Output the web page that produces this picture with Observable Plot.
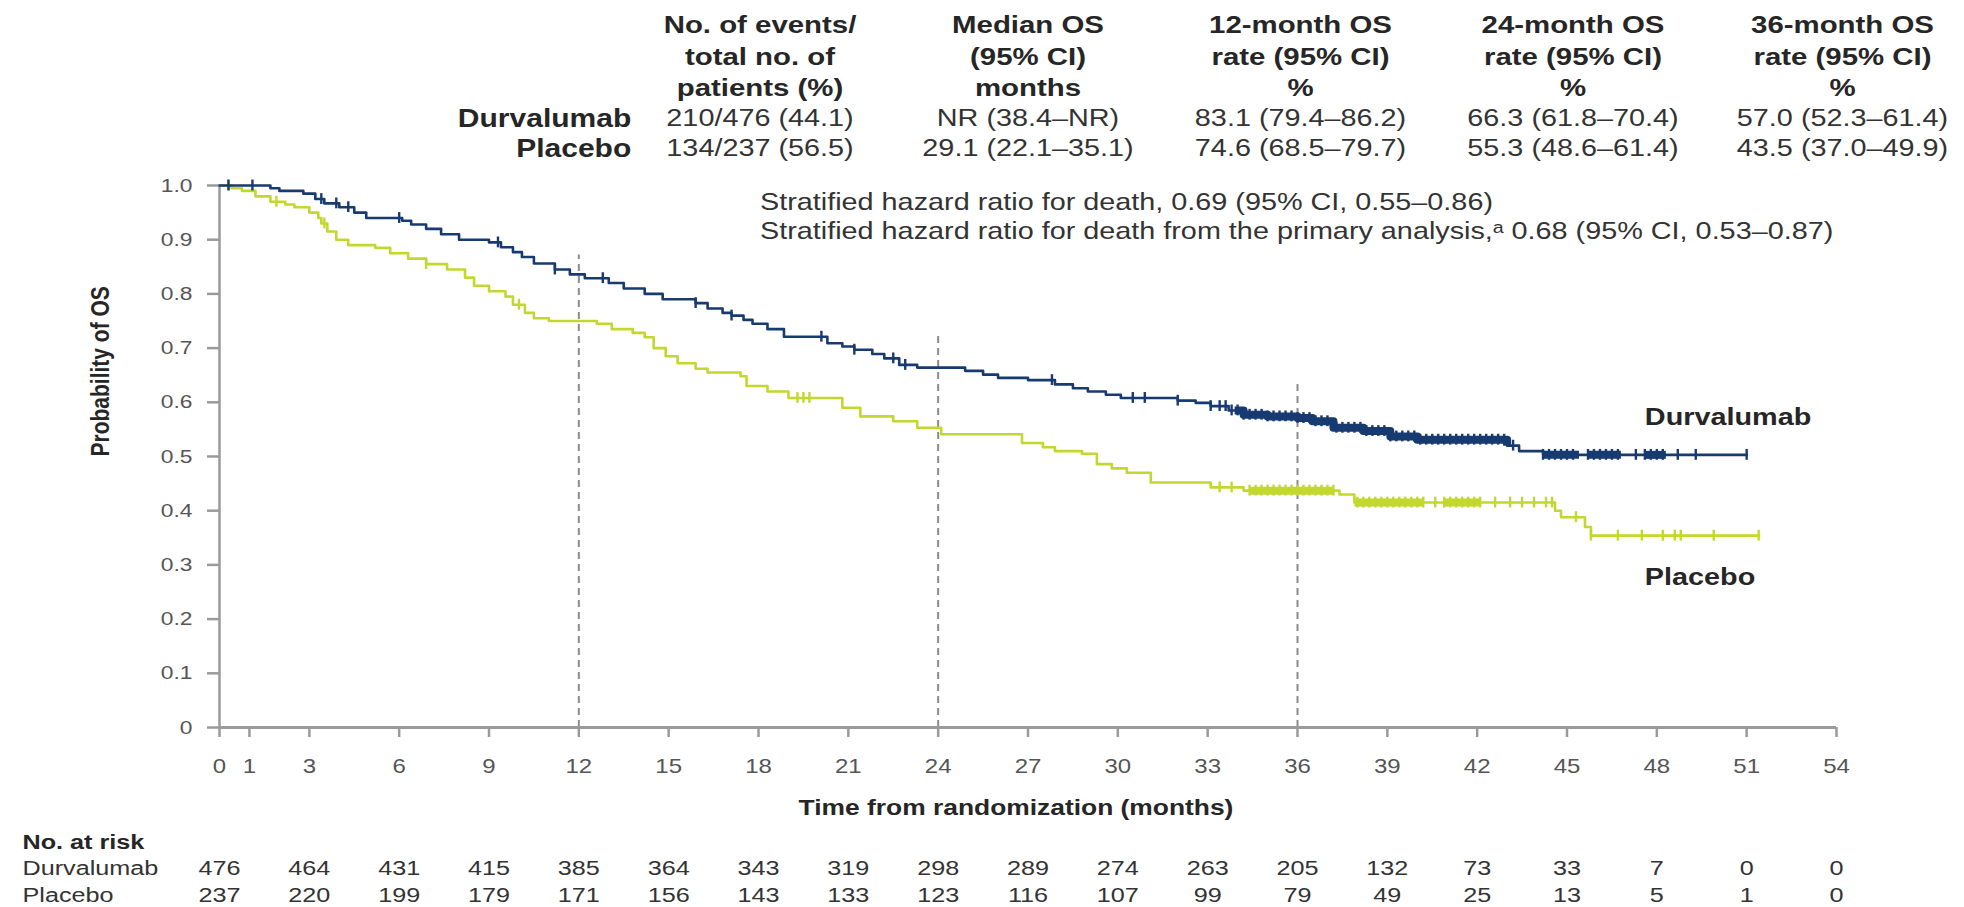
<!DOCTYPE html>
<html>
<head>
<meta charset="utf-8">
<script src="https://cdn.jsdelivr.net/npm/d3@7"></script>
<script src="https://cdn.jsdelivr.net/npm/@observablehq/plot@0.6"></script>
<style>
  html, body { margin: 0; padding: 0; background: #ffffff; }
  #chart svg { display: block; }
</style>
</head>
<body>
<div id="chart"></div>
<script>
// ---------------- DATA ----------------
const groups = ["Durvalumab", "Placebo"];

// Kaplan–Meier steps (time in months, survival probability after the step)
const durvaT = [0, 1.7, 2.0, 2.8, 3.2, 3.5, 4.0, 4.5, 4.9, 6.1, 6.4, 6.9, 7.4, 8.0, 9.0, 9.4, 9.8, 10.1, 10.5, 11.2, 11.7, 12.2, 13.0, 13.5, 14.2, 14.8, 15.9, 16.3, 16.8, 17.1, 17.5, 17.8, 18.3, 18.85, 20.3, 20.8, 21.2, 21.8, 22.2, 22.7, 23.3, 24.9, 25.5, 26.0, 27.0, 27.9, 28.5, 29.0, 29.6, 30.1, 32.0, 32.6, 33.1, 33.7, 34.2, 35.0, 36.0, 36.5, 37.2, 38.2, 39.1, 40.0, 43.0, 43.4, 44.2, 51.0];
const durvaS = [1.0, 0.995, 0.99, 0.985, 0.975, 0.967, 0.96, 0.95, 0.94, 0.935, 0.928, 0.92, 0.91, 0.90, 0.895, 0.886, 0.877, 0.868, 0.856, 0.845, 0.836, 0.829, 0.82, 0.81, 0.80, 0.79, 0.783, 0.773, 0.765, 0.76, 0.752, 0.745, 0.735, 0.721, 0.709, 0.703, 0.697, 0.689, 0.681, 0.669, 0.664, 0.658, 0.651, 0.645, 0.641, 0.633, 0.626, 0.62, 0.614, 0.608, 0.603, 0.599, 0.593, 0.585, 0.577, 0.574, 0.571, 0.565, 0.553, 0.547, 0.537, 0.531, 0.52, 0.51, 0.503, 0.503];

const placeboT = [0, 0.4, 0.75, 1.2, 1.7, 2.2, 2.5, 3.0, 3.3, 3.4, 3.6, 3.9, 4.3, 5.2, 5.7, 6.3, 6.9, 7.6, 8.2, 8.5, 9.0, 9.55, 9.8, 10.2, 10.5, 11.0, 12.6, 13.1, 13.8, 14.2, 14.5, 14.9, 15.3, 15.9, 16.3, 17.4, 17.6, 18.3, 19.0, 20.8, 21.4, 22.5, 23.3, 24.1, 26.8, 27.5, 27.9, 28.8, 29.3, 29.8, 30.3, 31.1, 33.1, 34.2, 37.4, 37.9, 44.6, 44.8, 45.6, 45.8, 51.4];
const placeboS = [1.0, 0.995, 0.99, 0.98, 0.97, 0.965, 0.96, 0.95, 0.94, 0.93, 0.915, 0.90, 0.89, 0.885, 0.875, 0.865, 0.855, 0.845, 0.83, 0.815, 0.805, 0.795, 0.78, 0.765, 0.755, 0.75, 0.745, 0.735, 0.728, 0.72, 0.70, 0.685, 0.672, 0.662, 0.655, 0.648, 0.63, 0.62, 0.608, 0.59, 0.574, 0.565, 0.553, 0.541, 0.525, 0.517, 0.51, 0.505, 0.486, 0.478, 0.47, 0.452, 0.443, 0.437, 0.43, 0.415, 0.40, 0.388, 0.37, 0.354, 0.354];

// censoring times (months)
const durvaCens = [0.3, 1.1, 3.4, 3.9, 4.3, 6.0, 9.3, 11.2, 12.8, 15.9, 17.1, 20.1, 21.2, 22.5, 22.9, 27.8, 30.5, 30.9, 32.0, 33.1, 33.4, 33.6, 33.8, 34.0, 34.2, 34.4, 34.6, 34.8, 35.0, 35.2, 35.4, 35.6, 35.8, 36.0, 36.2, 36.4, 36.6, 36.8, 37.0, 37.3, 37.5, 37.7, 37.9, 38.1, 38.3, 38.5, 38.7, 38.9, 39.1, 39.3, 39.5, 39.7, 39.9, 40.1, 40.3, 40.5, 40.7, 40.9, 41.1, 41.3, 41.5, 41.7, 41.9, 42.1, 42.3, 42.5, 42.7, 42.9, 43.2, 44.2, 44.4, 44.6, 44.8, 45.0, 45.2, 45.7, 45.9, 46.1, 46.3, 46.5, 46.7, 47.3, 47.6, 47.8, 48.0, 48.2, 48.7, 49.3, 51.0];
const placeboCens = [0.3, 1.9, 3.5, 6.9, 10.0, 19.3, 19.5, 19.7, 33.4, 33.8, 34.4, 34.6, 34.8, 35.0, 35.2, 35.4, 35.6, 35.8, 36.0, 36.2, 36.4, 36.6, 36.8, 37.0, 37.2, 38.0, 38.2, 38.4, 38.6, 38.8, 39.0, 39.2, 39.4, 39.6, 39.8, 40.0, 40.2, 40.6, 40.9, 41.1, 41.3, 41.5, 41.7, 41.9, 42.1, 42.6, 43.1, 43.5, 43.9, 44.3, 44.5, 45.3, 45.8, 46.7, 47.5, 48.2, 48.6, 48.8, 49.9, 51.4];

// stretches where censoring marks merge into a solid band (start, end months)
const durvaDense = [[33.9, 43.0], [44.2, 45.4], [45.7, 46.8], [47.6, 48.3]];
const placeboDense = [[34.4, 37.2], [37.9, 40.2], [40.9, 42.1]];

// landmark reference lines (month, top of dashed line)
const landmarkMonths = [12, 24, 36];
const landmarkTop = [0.872, 0.725, 0.636];

// axes
const xTicks = [0, 1, 3, 6, 9, 12, 15, 18, 21, 24, 27, 30, 33, 36, 39, 42, 45, 48, 51, 54];
const yTicks = [0, 0.1, 0.2, 0.3, 0.4, 0.5, 0.6, 0.7, 0.8, 0.9, 1.0];
const yTickLabels = ["0", "0.1", "0.2", "0.3", "0.4", "0.5", "0.6", "0.7", "0.8", "0.9", "1.0"];

// number at risk
const riskMonths = [0, 3, 6, 9, 12, 15, 18, 21, 24, 27, 30, 33, 36, 39, 42, 45, 48, 51, 54];
const durvaRisk = [476, 464, 431, 415, 385, 364, 343, 319, 298, 289, 274, 263, 205, 132, 73, 33, 7, 0, 0];
const placeboRisk = [237, 220, 199, 179, 171, 156, 143, 133, 123, 116, 107, 99, 79, 49, 25, 13, 5, 1, 0];

// summary table
const tableHeaders = ["No. of events/\ntotal no. of\npatients (%)", "Median OS\n(95% CI)\nmonths", "12-month OS\nrate (95% CI)\n%", "24-month OS\nrate (95% CI)\n%", "36-month OS\nrate (95% CI)\n%"];
const durvaRow = ["210/476 (44.1)", "NR (38.4–NR)", "83.1 (79.4–86.2)", "66.3 (61.8–70.4)", "57.0 (52.3–61.4)"];
const placeboRow = ["134/237 (56.5)", "29.1 (22.1–35.1)", "74.6 (68.5–79.7)", "55.3 (48.6–61.4)", "43.5 (37.0–49.9)"];
const hazardLines = ["Stratified hazard ratio for death, 0.69 (95% CI, 0.55–0.86)", "Stratified hazard ratio for death from the primary analysis,ᵃ 0.68 (95% CI, 0.53–0.87)"];

// ---------------- BUILD ----------------
const BLUE = "#173a70";
const GREEN = "#c2d82f";
const AXIS = "#9a9a9a";
const DARK = "#262626";
const FONT = "'Liberation Sans', Arial, Helvetica, sans-serif";

const toSteps = (T, S) => T.map((t, i) => ({t, s: S[i]}));
const durva = toSteps(durvaT, durvaS);
const placebo = toSteps(placeboT, placeboS);
const survAt = (T, S, c) => { let k = 0; for (let i = 0; i < T.length; i++) if (T[i] <= c) k = i; return S[k]; };
const durvaCensPts = durvaCens.map(t => ({t, s: survAt(durvaT, durvaS, t)}));
const placeboCensPts = placeboCens.map(t => ({t, s: survAt(placeboT, placeboS, t)}));
const bandPts = (T, S, bands) => bands.flatMap(([a, b], k) => {
  const pts = [{t: a, s: survAt(T, S, a), k}];
  T.forEach((t, i) => { if (t > a && t < b) pts.push({t, s: S[i], k}); });
  pts.push({t: b, s: survAt(T, S, b), k});
  return pts;
});
const durvaBand = bandPts(durvaT, durvaS, durvaDense);
const placeboBand = bandPts(placeboT, placeboS, placeboDense);
const landmarks = landmarkMonths.map((t, i) => ({t, top: landmarkTop[i]}));

// layout (not data): column centres of the summary table in month units
const colX = [18.05, 27.0, 36.1, 45.2, 54.2];
const rowLabelX = 13.75;
const endLabelX = 47.6;
const TICK_H = 0.01;

const chart = Plot.plot({
  width: 1964,
  height: 907,
  marginLeft: 219,
  marginRight: 128,
  marginTop: 185,
  marginBottom: 180,
  x: {domain: [0, 54]},
  y: {domain: [0, 1]},
  style: {fontFamily: FONT, background: "#ffffff", color: DARK},
  marks: [
    // landmark dashed lines
    Plot.ruleX(landmarks, {x: "t", y1: () => 0, y2: "top", stroke: "#8c8c8c", strokeWidth: 2, strokeDasharray: "7,5"}),
    // axis lines
    Plot.ruleY([0], {stroke: AXIS, strokeWidth: 3}),
    Plot.ruleX([0], {stroke: AXIS, strokeWidth: 2.5}),
    // ticks
    Plot.axisY({ticks: yTicks, tickSize: 12, color: AXIS, strokeWidth: 2.5, tickFormat: () => "", label: null}),
    Plot.axisY({ticks: yTicks, tickSize: 0, tickPadding: 27, color: "#555", fontSize: 19, tickFormat: (d) => yTickLabels[yTicks.indexOf(d)], label: null}),
    Plot.axisX({ticks: xTicks, tickSize: 10, color: AXIS, strokeWidth: 2.5, tickFormat: () => "", label: null}),
    Plot.axisX({ticks: xTicks, tickSize: 0, tickPadding: 31, color: "#555", fontSize: 20, tickFormat: (d) => String(d), label: null}),
    // curves
    Plot.line(placebo, {x: "t", y: "s", curve: "step-after", stroke: GREEN, strokeWidth: 2.6}),
    Plot.line(placeboBand, {x: "t", y: "s", z: "k", curve: "step-after", stroke: GREEN, strokeWidth: 8, strokeLinecap: "butt"}),
    Plot.ruleX(placeboCensPts, {x: "t", y1: (d) => d.s - TICK_H, y2: (d) => d.s + TICK_H, stroke: GREEN, strokeWidth: 2.4}),
    Plot.line(durva, {x: "t", y: "s", curve: "step-after", stroke: BLUE, strokeWidth: 2.6}),
    Plot.line(durvaBand, {x: "t", y: "s", z: "k", curve: "step-after", stroke: BLUE, strokeWidth: 8, strokeLinecap: "butt"}),
    Plot.ruleX(durvaCensPts, {x: "t", y1: (d) => d.s - TICK_H, y2: (d) => d.s + TICK_H, stroke: BLUE, strokeWidth: 2.4}),
    // end-of-curve labels
    Plot.text([groups[0]], {x: () => endLabelX, y: () => 0.573, textAnchor: "start", fontWeight: "bold", fontSize: 24, fill: DARK}),
    Plot.text([groups[1]], {x: () => endLabelX, y: () => 0.277, textAnchor: "start", fontWeight: "bold", fontSize: 24, fill: DARK}),
    // summary table
    Plot.text(tableHeaders, {x: (d, i) => colX[i], text: (d) => d, frameAnchor: "top", dy: -131, lineAnchor: "middle", lineHeight: 1.28, fontWeight: "bold", fontSize: 24.5, fill: DARK}),
    Plot.text([groups[0]], {x: () => rowLabelX, frameAnchor: "top", dy: -67, lineAnchor: "middle", textAnchor: "end", fontWeight: "bold", fontSize: 25, fill: DARK}),
    Plot.text([groups[1]], {x: () => rowLabelX, frameAnchor: "top", dy: -37, lineAnchor: "middle", textAnchor: "end", fontWeight: "bold", fontSize: 25, fill: DARK}),
    Plot.text(durvaRow, {x: (d, i) => colX[i], text: (d) => d, frameAnchor: "top", dy: -67, lineAnchor: "middle", fontSize: 24, fill: "#333"}),
    Plot.text(placeboRow, {x: (d, i) => colX[i], text: (d) => d, frameAnchor: "top", dy: -37, lineAnchor: "middle", fontSize: 24, fill: "#333"}),
    // hazard ratios
    Plot.text([hazardLines[0]], {x: () => colX[0], frameAnchor: "top", dy: 17, lineAnchor: "middle", textAnchor: "start", fontSize: 24, fill: "#333"}),
    Plot.text([hazardLines[1]], {x: () => colX[0], frameAnchor: "top", dy: 46, lineAnchor: "middle", textAnchor: "start", fontSize: 24, fill: "#333"}),
    // axis titles
    Plot.text(["Probability of OS"], {frameAnchor: "left", dx: -119, rotate: -90, fontWeight: "bold", fontSize: 21, fill: DARK}),
    Plot.text(["Time from randomization (months)"], {frameAnchor: "bottom", dx: -12, dy: 80, lineAnchor: "middle", fontWeight: "bold", fontSize: 22, fill: DARK}),
    // number at risk
    Plot.text(["No. at risk"], {frameAnchor: "bottom-left", dx: -197, dy: 115, lineAnchor: "middle", textAnchor: "start", fontWeight: "bold", fontSize: 21, fill: DARK}),
    Plot.text([groups[0]], {frameAnchor: "bottom-left", dx: -197, dy: 141, lineAnchor: "middle", textAnchor: "start", fontSize: 21, fill: "#333"}),
    Plot.text([groups[1]], {frameAnchor: "bottom-left", dx: -197, dy: 168, lineAnchor: "middle", textAnchor: "start", fontSize: 21, fill: "#333"}),
    Plot.text(riskMonths, {x: (d) => d, text: (d, i) => String(durvaRisk[i]), frameAnchor: "bottom", dy: 141, lineAnchor: "middle", fontSize: 21, fill: "#333"}),
    Plot.text(riskMonths, {x: (d) => d, text: (d, i) => String(placeboRisk[i]), frameAnchor: "bottom", dy: 168, lineAnchor: "middle", fontSize: 21, fill: "#333"})
  ]
});

document.getElementById("chart").append(chart);

// the source figure is horizontally stretched; widen glyphs about their anchors
const SX = 1.2;
chart.querySelectorAll("text").forEach((t) => {
  const tr = t.getAttribute("transform");
  const m = tr && tr.match(/^\s*translate\(([^)]*)\)(.*)$/);
  if (m) {
    t.setAttribute("transform", `translate(${m[1]}) scale(${SX},1)${m[2]}`);
  } else {
    const x = +t.getAttribute("x") || 0, y = +t.getAttribute("y") || 0;
    t.setAttribute("transform", `translate(${x},${y}) scale(${SX},1) translate(${-x},${-y})`);
  }
});
</script>
</body>
</html>
